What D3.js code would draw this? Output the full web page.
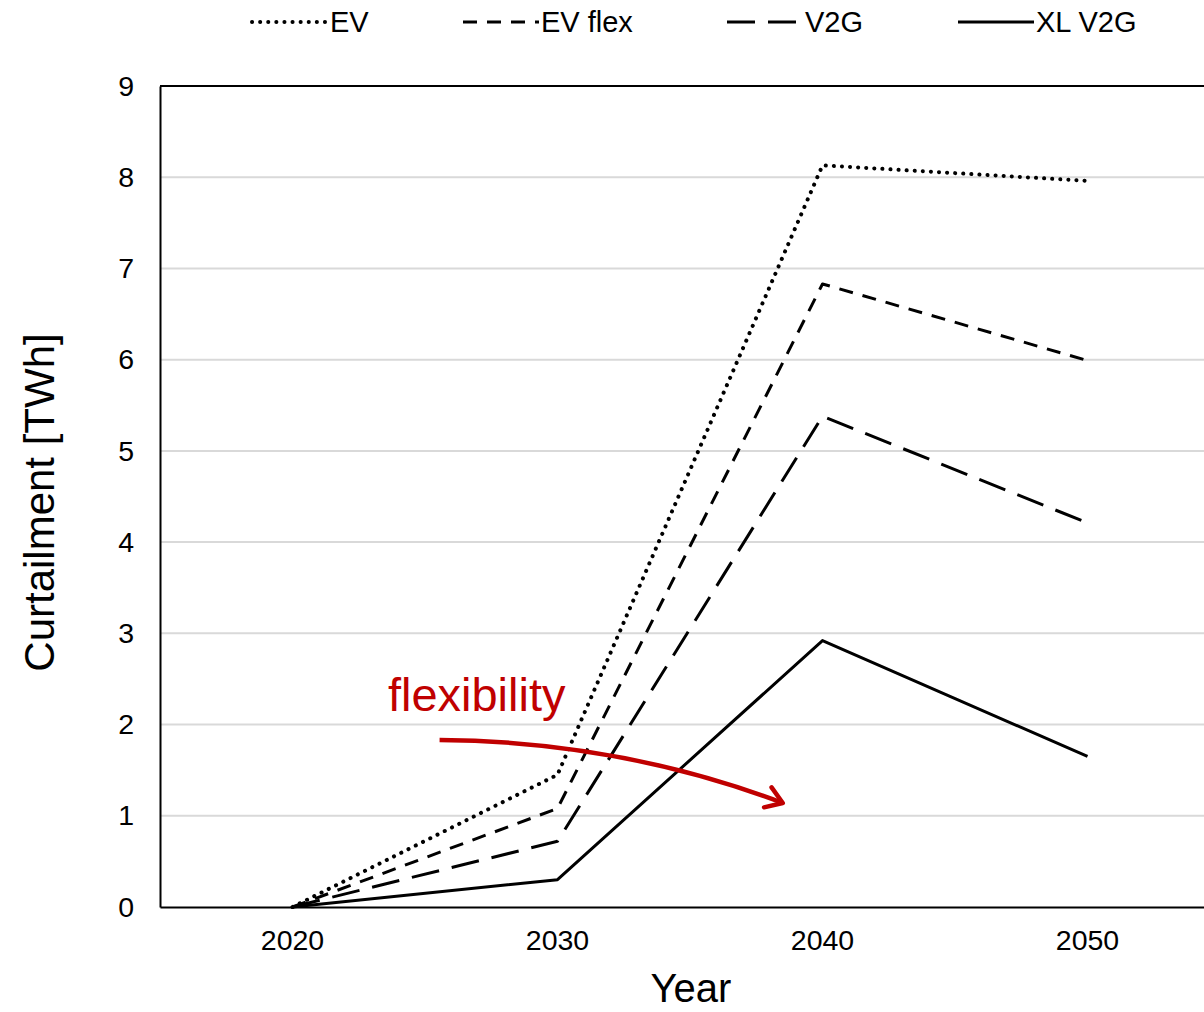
<!DOCTYPE html>
<html>
<head>
<meta charset="utf-8">
<script src="https://cdn.jsdelivr.net/npm/d3@7"></script>
<style>
  html, body { margin: 0; padding: 0; background: #fff; }
  svg { display: block; font-family: "Liberation Sans", Arial, sans-serif; }
</style>
</head>
<body>
<svg id="chart" width="1204" height="1012"></svg>
<script>
// Curtailment by scenario and year
const years = [2020, 2030, 2040, 2050];
const seriesNames = ["EV", "EV flex", "V2G", "XL V2G"];
const evValues     = [0, 1.45, 8.13, 7.96];
const evFlexValues = [0, 1.08, 6.83, 5.99];
const v2gValues    = [0, 0.72, 5.38, 4.21];
const xlV2gValues  = [0, 0.30, 2.92, 1.65];
const yTicks = [0, 1, 2, 3, 4, 5, 6, 7, 8, 9];

const dashStyles = ["0.1 8", "14 10", "28 13", null];
const seriesValues = [evValues, evFlexValues, v2gValues, xlV2gValues];

const svg = d3.select("#chart");
const margin = { left: 160, top: 86, bottom: 105 };
const plotW = 1060;
const plotH = 1012 - margin.top - margin.bottom;

const x = d3.scaleBand().domain(years).range([margin.left, margin.left + plotW]);
const xc = d3.scaleLinear().domain([2020, 2030]).range([x(2020) + x.bandwidth() / 2, x(2030) + x.bandwidth() / 2]);
const y = d3.scaleLinear().domain([0, 9]).range([margin.top + plotH, margin.top]);

// gridlines
svg.append("g").selectAll("line").data(yTicks.filter(t => t > 0 && t < 9)).join("line")
  .attr("x1", margin.left).attr("x2", margin.left + plotW)
  .attr("y1", d => y(d)).attr("y2", d => y(d))
  .attr("stroke", "#d9d9d9").attr("stroke-width", 2);

// frame: top edge
svg.append("line").attr("x1", margin.left).attr("x2", margin.left + plotW)
  .attr("y1", y(9)).attr("y2", y(9)).attr("stroke", "#000").attr("stroke-width", 2);

const yAxis = svg.append("g").attr("transform", `translate(${margin.left},0)`)
  .call(d3.axisLeft(y).tickValues(yTicks).tickSize(0).tickPadding(26));
yAxis.attr("font-size", 28.5).attr("font-family", "Liberation Sans, Arial, sans-serif");
yAxis.select(".domain").attr("stroke", "#000").attr("stroke-width", 2);
yAxis.selectAll("text").attr("fill", "#000");

const xAxis = svg.append("g").attr("transform", `translate(0,${y(0)})`)
  .call(d3.axisBottom(x).tickSize(0).tickPadding(23));
xAxis.attr("font-size", 28.5).attr("font-family", "Liberation Sans, Arial, sans-serif");
xAxis.select(".domain").attr("stroke", "#000").attr("stroke-width", 2);
xAxis.selectAll("text").attr("fill", "#000");

// axis titles
svg.append("text").attr("x", 691).attr("y", 1002).attr("text-anchor", "middle")
  .attr("font-size", 40).text("Year");
svg.append("text").attr("transform", `translate(54,${margin.top + plotH / 2 + 6}) rotate(-90)`)
  .attr("text-anchor", "middle").attr("font-size", 42).text("Curtailment [TWh]");

// series lines
const line = d3.line().x((d, i) => x(years[i]) + x.bandwidth() / 2).y(d => y(d));
seriesValues.forEach((vals, k) => {
  svg.append("path").datum(vals)
    .attr("d", line)
    .attr("fill", "none")
    .attr("stroke", "#000")
    .attr("stroke-width", k === 0 ? 4 : 3)
    .attr("stroke-linecap", k === 0 ? "round" : "butt")
    .attr("stroke-linejoin", "round")
    .attr("stroke-dasharray", dashStyles[k]);
});

// legend
const legendX = [252, 463, 727, 958];
const legend = svg.append("g");
seriesNames.forEach((name, k) => {
  legend.append("line")
    .attr("x1", legendX[k]).attr("x2", legendX[k] + 76)
    .attr("y1", 22).attr("y2", 22)
    .attr("stroke", "#000").attr("stroke-width", k === 0 ? 4 : 3)
    .attr("stroke-linecap", k === 0 ? "round" : "butt")
    .attr("stroke-dasharray", dashStyles[k]);
  legend.append("text").attr("x", legendX[k] + 78).attr("y", 32)
    .attr("font-size", 29).text(name);
});

// flexibility annotation
const red = "#c00000";
svg.append("defs").append("marker")
  .attr("id", "arrowhead").attr("viewBox", "0 0 10 10")
  .attr("refX", 8).attr("refY", 5)
  .attr("markerWidth", 28).attr("markerHeight", 28)
  .attr("markerUnits", "userSpaceOnUse")
  .attr("orient", "auto")
  .append("path").attr("d", "M2.3,1.2 L8,5 L2.3,8.8").attr("fill", "none")
  .attr("stroke", red).attr("stroke-width", 1.6)
  .attr("stroke-linecap", "round").attr("stroke-linejoin", "round");

svg.append("text").attr("x", xc(2023.6)).attr("y", y(2.15))
  .attr("font-size", 47).attr("fill", red).text("flexibility");

const p0 = [xc(2025.55), y(1.83)];
const pc = [xc(2032.3), y(1.82)];
const p1 = [xc(2038.5), y(1.14)];
svg.append("path")
  .attr("d", `M${p0[0]},${p0[1]} Q${pc[0]},${pc[1]} ${p1[0]},${p1[1]}`)
  .attr("fill", "none").attr("stroke", red).attr("stroke-width", 4.5)
  .attr("marker-end", "url(#arrowhead)");
</script>
</body>
</html>
